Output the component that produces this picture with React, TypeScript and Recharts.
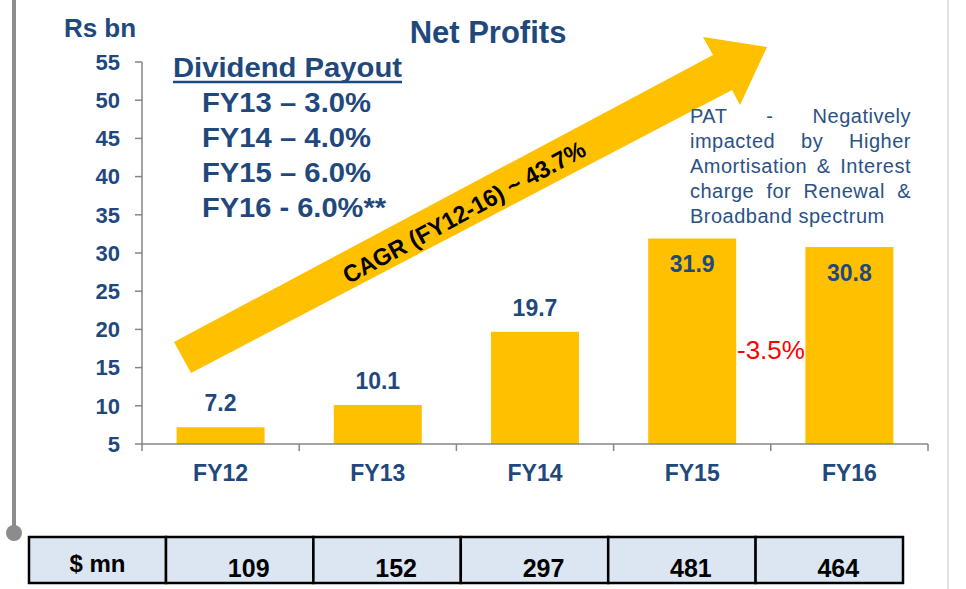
import React from "react";
import {Bar, BarChart, LabelList, XAxis, YAxis} from "recharts";

const years = ["FY12", "FY13", "FY14", "FY15", "FY16"];
const netProfit = [7.2, 10.1, 19.7, 31.9, 30.8];
const usdMn = [109, 152, 297, 481, 464];
const yTicks = [5, 10, 15, 20, 25, 30, 35, 40, 45, 50, 55];
const dividendTitle = "Dividend Payout";
const dividendLines = ["FY13 – 3.0%", "FY14 – 4.0%", "FY15 – 6.0%", "FY16 - 6.0%**"];
const patNote = ["PAT - Negatively", "impacted by Higher", "Amortisation & Interest", "charge for Renewal &", "Broadband spectrum"];
const cagrText = "CAGR (FY12-16) ~ 43.7%";
const changeText = "-3.5%";
const tableHead = "$ mn";

const chartData = years.map((year, i) => ({year, profit: netProfit[i]}));

const BLUE = "#1F497D";
const GOLD = "#FFC000";
const GREY = "#868686";
const FONT = "'Liberation Sans', Arial, sans-serif";

const CategoryTick = (props: any) => {
    const {x, y, payload, index, visibleTicksCount} = props;
    const half = payload.offset || 78.6;
    return (
        <g>
            <line x1={x - half} x2={x - half} y1={y} y2={y + 7} stroke={GREY} strokeWidth={1.5}/>
            {index === visibleTicksCount - 1 &&
                <line x1={x + half} x2={x + half} y1={y} y2={y + 7} stroke={GREY} strokeWidth={1.5}/>}
            <text x={x} y={y + 37} textAnchor="middle" fill={BLUE} fontSize={23} fontWeight="bold"
                  fontFamily={FONT}>{payload.value}</text>
        </g>
    );
};

const ValueLabel = (props: any) => {
    const {x, y, width, value} = props;
    const inside = value > 25;
    return (
        <text x={x + width / 2} y={inside ? y + 34 : y - 16} textAnchor="middle" fill={BLUE}
              fontSize={23} fontWeight="bold" fontFamily={FONT}>{value.toFixed(1)}</text>
    );
};

const App = () => {
    const firstW = 137;
    const cellW = 147.4;
    const cells = [tableHead, ...usdMn.map(String)];

    return (
        <div style={{position: "absolute", left: 0, top: 0, width: 966, height: 589, background: "#fff", fontFamily: FONT}}>
            <BarChart width={966} height={589} data={chartData}
                      margin={{top: 62, right: 38, bottom: 105, left: 82}} barCategoryGap="22%">
                <XAxis dataKey="year" height={40} tickSize={0} tickMargin={0} tickLine={false}
                       axisLine={{stroke: GREY, strokeWidth: 1.5}} tick={<CategoryTick/>} interval={0}/>
                <YAxis type="number" domain={[5, 55]} ticks={yTicks} width={60} tickSize={7} tickMargin={15}
                       axisLine={{stroke: GREY, strokeWidth: 1.5}} tickLine={{stroke: GREY, strokeWidth: 1.5}}
                       tick={{fill: BLUE, fontSize: 22, fontWeight: "bold", fontFamily: FONT}} interval={0}/>
                <Bar dataKey="profit" fill={GOLD} isAnimationActive={false}>
                    <LabelList dataKey="profit" content={<ValueLabel/>}/>
                </Bar>
            </BarChart>

            <svg width={966} height={589} style={{position: "absolute", left: 0, top: 0, pointerEvents: "none"}}>
                {/* side rules */}
                <line x1={14} x2={14} y1={0} y2={533} stroke="#8c8c8c" strokeWidth={4}/>
                <circle cx={14} cy={533} r={8} fill="#8c8c8c"/>
                <line x1={948} x2={948} y1={0} y2={589} stroke="#d9d9d9" strokeWidth={1.5}/>

                <text x={100} y={37} textAnchor="middle" fill={BLUE} fontSize={26} fontWeight="bold" fontFamily={FONT}>Rs bn</text>
                <text x={488} y={43} textAnchor="middle" fill={BLUE} fontSize={31} fontWeight="bold" fontFamily={FONT}>Net Profits</text>

                {/* growth arrow */}
                <polygon points="174,342 191,373 732,90 740,105 767,47 703,37 713,55" fill={GOLD}/>
                <text x={464} y={212} textAnchor="middle" dominantBaseline="central" fill="#000" fontSize={24}
                      fontWeight="bold" fontFamily={FONT} textLength={272} lengthAdjust="spacingAndGlyphs"
                      transform="rotate(-28.5 464 212)">{cagrText}</text>

                {/* dividend block */}
                <text x={173} y={77} fill={BLUE} fontSize={28} fontWeight="bold" fontFamily={FONT}
                      textLength={229} lengthAdjust="spacingAndGlyphs">{dividendTitle}</text>
                <line x1={173} x2={402} y1={82} y2={82} stroke={BLUE} strokeWidth={2.5}/>
                {dividendLines.map((t, i) => (
                    <text key={t} x={202} y={112 + i * 35} fill={BLUE} fontSize={27} fontWeight="bold" fontFamily={FONT}
                          textLength={i === 3 ? 184 : 169} lengthAdjust="spacingAndGlyphs">{t}</text>
                ))}

                <text x={737} y={359} fill="#FF0000" fontSize={26} fontFamily={FONT}>{changeText}</text>

                {/* $ mn table */}
                {cells.map((c, i) => {
                    const x = i === 0 ? 29 : 29 + firstW + (i - 1) * cellW;
                    const w = i === 0 ? firstW : cellW;
                    return (
                        <g key={i}>
                            <rect x={x} y={537} width={w} height={46} fill="#DCE6F2" stroke="#000" strokeWidth={2.5}/>
                            <text x={x + w / 2 + (i === 0 ? 0 : 9)} y={i === 0 ? 572 : 577} textAnchor="middle"
                                  fill="#000" fontSize={i === 0 ? 24 : 25} fontWeight="bold" fontFamily={FONT}>{c}</text>
                        </g>
                    );
                })}
            </svg>

            <div style={{position: "absolute", left: 690, top: 104, width: 221, color: "#2A5285", fontSize: 20,
                letterSpacing: 0.5, lineHeight: "25px", fontFamily: FONT}}>
                {patNote.map((line, i) => (
                    <div key={i} style={{
                        textAlign: i === patNote.length - 1 ? "left" : "justify",
                        textAlignLast: i === patNote.length - 1 ? "left" : "justify",
                        whiteSpace: "nowrap"
                    } as React.CSSProperties}>{line}</div>
                ))}
            </div>
        </div>
    );
};

export default App;
